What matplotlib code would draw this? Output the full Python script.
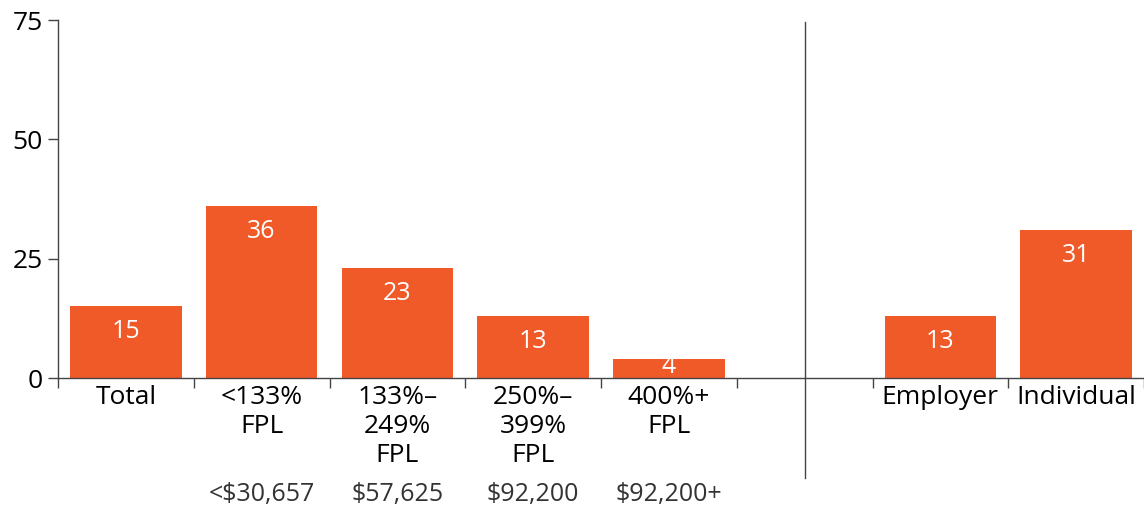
import matplotlib
matplotlib.use("Agg")
import matplotlib.pyplot as plt
from matplotlib.transforms import blended_transform_factory
from matplotlib.lines import Line2D

plt.rcParams['font.family'] = ['Open Sans', 'DejaVu Sans']

categories = ['Total', '<133%\nFPL', '133%–\n249%\nFPL', '250%–\n399%\nFPL', '400%+\nFPL',
              '', 'Employer', 'Individual']
values = [15, 36, 23, 13, 4, None, 13, 31]
incomes = ['<$30,657', '$57,625', '$92,200', '$92,200+']

bar_color = '#F05A28'

fig = plt.figure(figsize=(11.44, 5.08), dpi=100)
ax = fig.add_axes([58 / 1144, 130 / 508, 1 - 58 / 1144, 358 / 508])

xs = [i for i, v in enumerate(values) if v is not None]
vals = [v for v in values if v is not None]
ax.bar(xs, vals, width=0.82, color=bar_color, zorder=2)

for x, v in zip(xs, vals):
    ax.text(x, max(v - 5.3, 2.4), str(v), ha='center', va='center',
            color='white', fontsize=18)

ax.set_xlim(-0.5, 7.5)
ax.set_ylim(0, 75)
ax.set_yticks([0, 25, 50, 75])
ax.tick_params(axis='y', labelsize=19, length=7, width=1, color='#444444', pad=4)

ax.set_xticks(range(len(categories)))
ax.set_xticklabels(categories, fontsize=19, linespacing=1.22)
ax.set_xticks([i - 0.5 for i in range(len(categories) + 1)], minor=True)
ax.tick_params(axis='x', which='major', length=0, pad=5)
ax.tick_params(axis='x', which='minor', length=7, width=1, color='#444444')

for s in ['top', 'right']:
    ax.spines[s].set_visible(False)
for s in ['left', 'bottom']:
    ax.spines[s].set_color('#444444')
    ax.spines[s].set_linewidth(1)

trans = blended_transform_factory(ax.transData, ax.transAxes)
for i, lab in enumerate(incomes):
    ax.text(i + 1, -0.325, lab, transform=trans, ha='center', va='center',
            fontsize=18, color='#333333')

sep = Line2D([5, 5], [-0.28, 0.994], transform=trans, color='#444444',
             linewidth=1, clip_on=False)
ax.add_line(sep)

fig.savefig('out.png', dpi=100)
